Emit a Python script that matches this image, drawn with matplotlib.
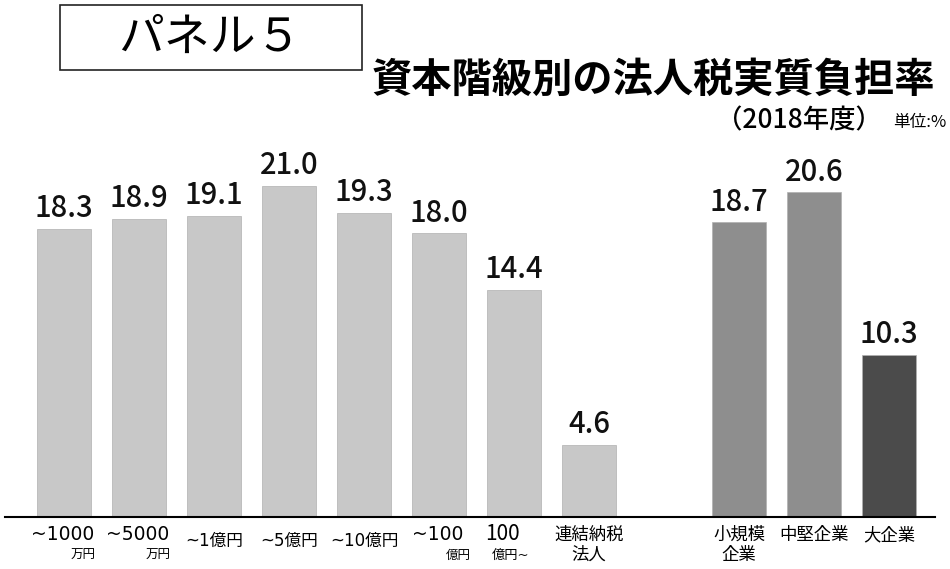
import numpy as np
from matplotlib import pyplot as plt
from matplotlib import transforms
from matplotlib.patches import Rectangle

plt.rcParams['font.family'] = ['Noto Sans CJK JP', 'DejaVu Sans']
tilde_fam = ['DejaVu Sans', 'Noto Sans CJK JP']  # wider "~"

# data
positions = [0, 1, 2, 3, 4, 5, 6, 7, 9, 10, 11]
values = [18.3, 18.9, 19.1, 21.0, 19.3, 18.0, 14.4, 4.6, 18.7, 20.6, 10.3]
colors = ['#c8c8c8'] * 8 + ['#8e8e8e', '#8e8e8e', '#4b4b4b']
# (main label, small label) per bar
main_labels = ['~1000', '~5000', '~1億円', '~5億円', '~10億円', '~100', '100',
               '連結納税', '小規模', '中堅企業', '大企業']
sub_labels = ['万円', '万円', '', '', '', '億円', '億円~', '法人', '企業', '', '']

W, H = 950, 569
fig = plt.figure(figsize=(W / 100, H / 100), dpi=100)
ax = fig.add_axes([5 / W, (H - 517) / H, 930 / W, (517 - 140) / H])

ax.bar(positions, values, width=0.73, color=colors, edgecolor='#b0b0b0',
       linewidth=0.5)
for x, v in zip(positions, values):
    ax.text(x, v + 0.3, f'{v:.1f}', ha='center', va='bottom', fontsize=21,
            fontweight='medium', color='#111111')

ax.set_xlim(-0.787, 11.613)
ax.set_ylim(0, 23.92)
for s in ['top', 'right', 'left']:
    ax.spines[s].set_visible(False)
ax.spines['bottom'].set_linewidth(1.5)
ax.set_xticks([])
ax.set_yticks([])

# category labels below the axis
tr = transforms.blended_transform_factory(ax.transData, fig.transFigure)
def fy(py):
    return 1 - py / H

for x, m, s in zip(positions, main_labels, sub_labels):
    if s in ('万円', '億円'):
        ax.text(x - 0.02, fy(535), m, transform=tr, ha='center', va='center',
                fontsize=13.5, family=tilde_fam)
        ax.text(x + 0.26, fy(555), s, transform=tr, ha='center', va='center',
                fontsize=9)
    elif m == '100':
        ax.text(x - 0.15, fy(534), m, transform=tr, ha='center', va='center',
                fontsize=15)
        ax.text(x - 0.05, fy(555), s, transform=tr, ha='center', va='center',
                fontsize=9.5, family=tilde_fam)
    elif s:
        ax.text(x, fy(535), m, transform=tr, ha='center', va='center',
                fontsize=12.5)
        ax.text(x, fy(555), s, transform=tr, ha='center', va='center',
                fontsize=12.5)
    elif m.startswith('~'):
        ax.text(x, fy(541), m, transform=tr, ha='center', va='center',
                fontsize=12, family=tilde_fam)
    else:
        ax.text(x, fy(535), m, transform=tr, ha='center', va='center',
                fontsize=12.5)

# header
fig.patches.append(Rectangle((60 / W, fy(70)), 302 / W, 65 / H,
                             transform=fig.transFigure, fill=False,
                             edgecolor='#222222', linewidth=1.2))
fig.text(210 / W, fy(38), 'パネル５', ha='center', va='center', fontsize=33)
fig.text(935 / W, fy(80), '資本階級別の法人税実質負担率', ha='right',
         va='center', fontsize=29, fontweight='bold')
fig.text(882 / W, fy(121), '（2018年度）', ha='right', va='center',
         fontsize=19, fontweight='medium')
fig.text(946 / W, fy(122), '単位:%', ha='right', va='center', fontsize=12)

fig.savefig('out.png', dpi=100)
